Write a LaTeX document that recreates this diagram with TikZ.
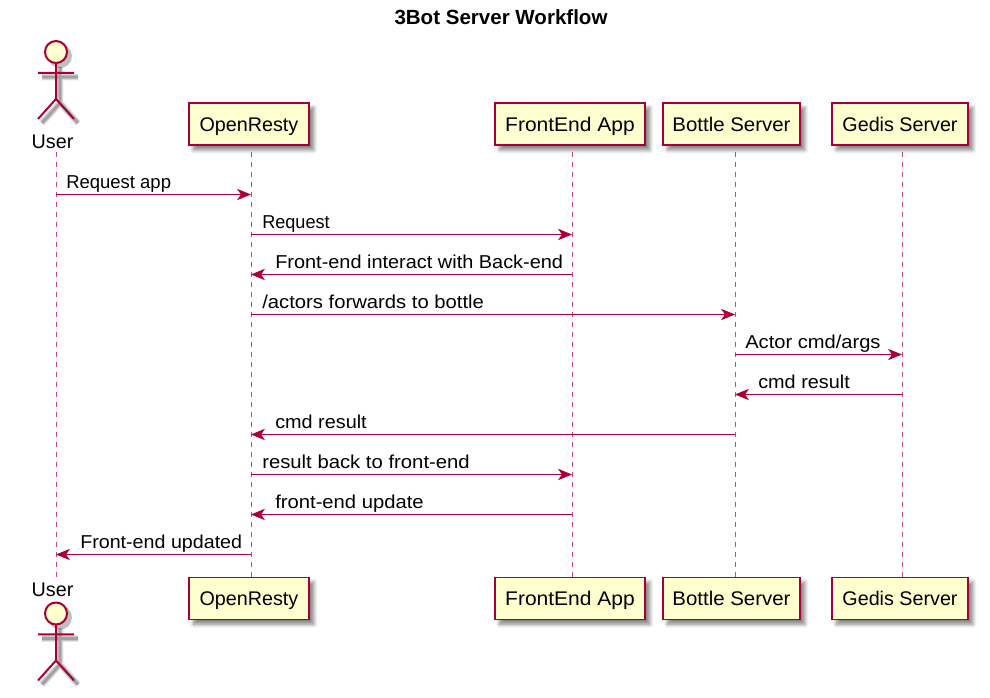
\documentclass[tikz,border=0pt]{standalone}
\usepackage{graphicx}
\usepackage{fontspec}
\setmainfont{Liberation Sans}
\usetikzlibrary{arrows.meta,shadows.blur}
\definecolor{umlred}{HTML}{A80036}
\definecolor{umlfill}{HTML}{FEFECE}
\tikzset{
  box/.style={draw=umlred,fill=umlfill,line width=1.15pt,minimum height=31.5pt,inner sep=0pt,
    text height=13pt,text depth=2.5pt,font=\fontsize{14.8}{16}\selectfont,
    blur shadow={shadow xshift=3.5pt,shadow yshift=-3.5pt,shadow blur radius=3pt,shadow blur steps=6,shadow opacity=50}},
  actorlabel/.style={inner sep=0pt,font=\fontsize{14.8}{16}\selectfont},
  lifeline/.style={umlred,line width=.75pt,dash pattern=on 3.75pt off 3.75pt,opacity=.7},
  msg/.style={umlred,line width=.8pt,-{Stealth[length=10.5pt,width=8.5pt,inset=3pt]}},
  msglabel/.style={anchor=base west,inner sep=0pt,font=\fontsize{14}{16}\selectfont},
}
\newcommand{\stickman}[2]{
  \begin{scope}[shift={(#1,#2)}]
    % soft shadow
    \foreach \lw/\op in {5/.10,3.5/.14,2/.18}
      \draw[black,opacity=\op,line width=\lw pt,shift={(4,4)}] (0,22)--(0,58) (-18,32)--(18,32) (-18,78)--(0,58)--(18,78);
    \fill[black,opacity=.25,shift={(4,4)}] (0,11) circle (12);
    \draw[umlred,fill=umlfill,line width=1.5pt] (0,11) circle (11);
    \draw[umlred,line width=1.5pt] (0,22)--(0,58) (-18,32)--(18,32) (-18,78)--(0,58)--(18,78);
  \end{scope}
}
\begin{document}
\begin{tikzpicture}[x=.75pt,y=-.75pt]
\useasboundingbox (0,0) rectangle (990,698);

\node (title) at (501,17) {\fontsize{15.4}{18}\selectfont\bfseries 3Bot Server Workflow};

% lifelines first, boxes sit on top
\foreach \name/\xx in {usr/56,res/251,app/572,bot/735,ged/902} {
  \coordinate (\name t) at (\xx,152);
  \coordinate (\name b) at (\xx,578);
  \draw[lifeline] (\name t) -- (\name b);
}
\foreach \name/\xx/\boxw/\sx/\txt in {res/249/120/1/OpenResty,app/570/150/1.065/FrontEnd App,bot/731.5/137/1.035/Bottle Server,ged/900/136/1/Gedis Server} {
  \node[box,minimum width=\boxw*.75pt] (\name top) at (\xx,124.25) {\scalebox{\sx}[1]{\txt}};
  \node[box,minimum width=\boxw*.75pt] (\name bottom) at (\xx,598.5) {\scalebox{\sx}[1]{\txt}};
}

\stickman{56}{41}
\stickman{56}{602.5}
\node[actorlabel] (usrtop) at (52.5,141.5) {User};
\node[actorlabel] (usrbottom) at (52.5,589.5) {User};

% last field: width of the label against the font
\foreach \src/\dst/\yy/\xlabel/\sx/\txt [count=\n] in {
  usr/res/194.5/66/.99/Request app,
  res/app/234.5/262/.97/Request,
  app/res/274.5/275/1.067/Front-end interact with Back-end,
  res/bot/314.5/262/1.085/{/actors forwards to bottle},
  bot/ged/354.5/745/1.078/{Actor cmd/args},
  ged/bot/394.5/758/1.063/cmd result,
  bot/res/434.5/275/1.063/cmd result,
  res/app/474.5/262/1.087/result back to front-end,
  app/res/514.5/275/1.084/front-end update,
  res/usr/554.5/80/1.054/Front-end updated} {
  \coordinate (m\n a) at (\src t |- 0,\yy);
  \coordinate (m\n b) at (\dst t |- 0,\yy);
  \draw[msg] (m\n a) -- (m\n b);
  \node[msglabel] (label\n) at (\xlabel,\yy-5.5) {\scalebox{\sx}[1]{\txt}};
}

\end{tikzpicture}
\end{document}
